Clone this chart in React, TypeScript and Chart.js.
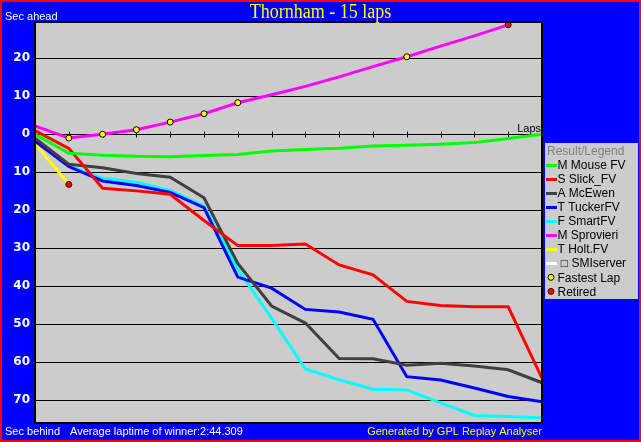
import React, { useEffect, useRef } from 'react';
import { Chart, registerables } from 'chart.js';

Chart.register(...registerables);

// ---- data (seconds relative to the winner; negative = behind) ----
const laps = [0, 1, 2, 3, 4, 5, 6, 7, 8, 9, 10, 11, 12, 13, 14, 15];
const mouseFV = [0, -5.0, -5.5, -5.8, -5.9, -5.6, -5.3, -4.4, -4.0, -3.7, -3.1, -2.9, -2.6, -2.2, -1.1, 0];
const slickFV = [1.0, -3.7, -14.2, -14.9, -15.8, -22.7, -29.3, -29.3, -28.9, -34.4, -37.0, -44.0, -45.1, -45.4, -45.4, -64.2];
const mcEwen = [-1.0, -7.9, -8.8, -10.3, -11.3, -16.7, -34.0, -45.2, -49.7, -59.0, -59.1, -60.8, -60.3, -61.0, -62.0, -65.4];
const tuckerFV = [-1.8, -8.5, -12.3, -13.5, -15.3, -19.3, -37.6, -40.5, -46.1, -46.8, -48.7, -63.8, -64.7, -66.8, -69.0, -70.4];
const smartFV = [-1.5, -8.3, -11.6, -12.6, -14.8, -18.9, -35.5, -48.4, -61.8, -64.6, -67.1, -67.3, -70.7, -74.0, -74.3, -74.7];
const sprovieri = [2.2, -1.0, 0, 1.2, 3.2, 5.4, 8.3, 10.4, 12.6, 15.1, 17.8, 20.4, 23.2, 25.9, 28.8];
const holtFV = [-2.4, -13.2];
const smiServer: number[] = [];

const fastestLapLaps = [1, 2, 3, 4, 5, 6, 11];
const retiredLaps = [14, 1];
const retiredValues = [sprovieri[14], holtFV[1]];

const yTickValues = [20, 10, 0, -10, -20, -30, -40, -50, -60, -70];
const xTickLaps = [1, 2, 3, 4, 5, 6, 7, 8, 9, 10, 11, 12, 13, 14];

const title = 'Thornham - 15 laps';
const averageLap = 'Average laptime of winner:2:44.309';

const toPts = (arr: number[]) => arr.map((y, i) => ({ x: laps[i], y }));

const SANS = '"Liberation Sans", Arial, sans-serif';

const framePlugin = {
  id: 'frame',
  beforeDraw(chart: any) {
    const { ctx, width, height, chartArea: a } = chart;
    ctx.save();
    ctx.fillStyle = '#ff0000';
    ctx.fillRect(0, 0, width, height);
    ctx.fillStyle = '#0000ff';
    ctx.fillRect(2, 2, width - 4, height - 4);
    ctx.fillStyle = '#cccccc';
    ctx.fillRect(a.left, a.top, a.right - a.left, a.bottom - a.top);
    ctx.restore();
  },
  beforeDatasetsDraw(chart: any) {
    const { ctx, chartArea: a } = chart;
    const xs = chart.scales.x;
    const ys = chart.scales.y;
    const y0 = Math.round(ys.getPixelForValue(0)) + 0.5;
    ctx.save();
    ctx.strokeStyle = '#000';
    ctx.lineWidth = 1;
    ctx.beginPath();
    xTickLaps.forEach((l) => {
      const x = Math.round(xs.getPixelForValue(l)) + 0.5;
      ctx.moveTo(x, y0 - 3);
      ctx.lineTo(x, y0 + 3);
    });
    ctx.stroke();
    ctx.fillStyle = '#000';
    ctx.font = '11px ' + SANS;
    ctx.textAlign = 'right';
    ctx.textBaseline = 'alphabetic';
    ctx.fillText('Laps', a.right - 1, y0 - 3);
    ctx.restore();
  },
  afterDraw(chart: any) {
    const { ctx, chartArea: a, width } = chart;
    ctx.save();
    // plot border
    ctx.strokeStyle = '#000';
    ctx.lineWidth = 2;
    ctx.strokeRect(a.left, a.top, a.right - a.left, a.bottom - a.top);

    // title
    ctx.fillStyle = '#ffff00';
    ctx.font = '20px "Liberation Serif", "Times New Roman", serif';
    ctx.textAlign = 'center';
    ctx.textBaseline = 'alphabetic';
    ctx.save();
    ctx.translate(width / 2, 17.5);
    ctx.scale(0.9, 1);
    ctx.fillText(title, 0, 0);
    ctx.restore();

    // axis captions
    ctx.font = '11px ' + SANS;
    ctx.textAlign = 'left';
    ctx.fillStyle = '#ffffff';
    ctx.fillText('Sec ahead', 5, 19.5);
    ctx.fillText('Sec behind', 5, 435);
    ctx.fillText(averageLap, 70, 435);
    ctx.textAlign = 'right';
    ctx.fillStyle = '#ffff00';
    ctx.fillText('Generated by GPL Replay Analyser', a.right, 435);

    // legend
    const bx = a.right + 3;
    const by = 143;
    ctx.fillStyle = '#cccccc';
    ctx.fillRect(bx, by, 638 - bx, 156);
    ctx.font = '12px ' + SANS;
    ctx.textAlign = 'left';
    ctx.fillStyle = '#808080';
    ctx.fillText('Result/Legend', bx + 2, 155);
    chart.data.datasets.forEach((ds: any, i: number) => {
      const cy = 164.5 + i * 14.1;
      if (ds.showLine === false) {
        ctx.beginPath();
        ctx.arc(551, cy, 3, 0, Math.PI * 2);
        ctx.fillStyle = ds.pointBackgroundColor;
        ctx.fill();
        ctx.lineWidth = 1;
        ctx.strokeStyle = ds.pointBorderColor;
        ctx.stroke();
      } else {
        ctx.fillStyle = ds.borderColor;
        ctx.fillRect(bx + 1, Math.round(cy) - 1, 11, 3);
      }
      ctx.fillStyle = '#000';
      ctx.fillText(ds.label, 557.5, cy + 4.2);
    });
    ctx.restore();
  },
};

const lineDs = (label: string, data: number[], color: string) => ({
  label,
  data: toPts(data),
  borderColor: color,
  backgroundColor: color,
  borderWidth: 3,
  pointRadius: 0,
  tension: 0,
  fill: false,
});

export default function App() {
  const ref = useRef<HTMLCanvasElement | null>(null);

  useEffect(() => {
    document.body.style.margin = '0';
    if (!ref.current) return;
    const chart = new Chart(ref.current, {
      type: 'line',
      data: {
        datasets: [
          lineDs('M Mouse FV', mouseFV, '#00ff00'),
          lineDs('S Slick_FV', slickFV, '#ff0000'),
          lineDs('A McEwen', mcEwen, '#404040'),
          lineDs('T TuckerFV', tuckerFV, '#0000ff'),
          lineDs('F SmartFV', smartFV, '#00ffff'),
          lineDs('M Sprovieri', sprovieri, '#ff00ff'),
          lineDs('T Holt.FV', holtFV, '#ffff00'),
          lineDs(' \u25A1 SMIserver', smiServer, '#ffffff'),
          {
            label: 'Fastest Lap',
            data: fastestLapLaps.map((l) => ({ x: l, y: sprovieri[l] })),
            showLine: false,
            pointRadius: 3,
            pointBackgroundColor: '#ffff00',
            pointBorderColor: '#000000',
            pointBorderWidth: 1,
            borderColor: '#000000',
            backgroundColor: '#ffff00',
            order: -1,
          } as any,
          {
            label: 'Retired',
            data: retiredLaps.map((l, i) => ({ x: l, y: retiredValues[i] })),
            showLine: false,
            pointRadius: 3,
            pointBackgroundColor: '#ff0000',
            pointBorderColor: '#400000',
            pointBorderWidth: 1,
            borderColor: '#400000',
            backgroundColor: '#ff0000',
            order: -1,
          } as any,
        ],
      },
      options: {
        responsive: false,
        animation: false,
        devicePixelRatio: 1,
        layout: { padding: { top: 22, left: 0, right: 99, bottom: 19 } },
        plugins: {
          legend: { display: false },
          title: { display: false },
          tooltip: { enabled: false },
        },
        scales: {
          x: {
            type: 'linear',
            min: 0,
            max: 15,
            display: false,
          },
          y: {
            type: 'linear',
            min: -76,
            max: 29.55,
            afterBuildTicks: (scale: any) => {
              scale.ticks = yTickValues.map((v) => ({ value: v }));
            },
            afterFit: (scale: any) => {
              scale.width = 35;
            },
            grid: { color: '#000000', lineWidth: 1, drawTicks: false },
            border: { display: false },
            ticks: {
              color: '#ffffff',
              padding: 5,
              font: { family: '"DejaVu Sans", sans-serif', weight: 'bold', size: 12 },
              callback: (v: any) => String(Math.abs(Number(v))),
            },
          },
        },
      },
      plugins: [framePlugin],
    });
    return () => chart.destroy();
  }, []);

  return <canvas ref={ref} width={641} height={442} style={{ display: 'block' }} />;
}
